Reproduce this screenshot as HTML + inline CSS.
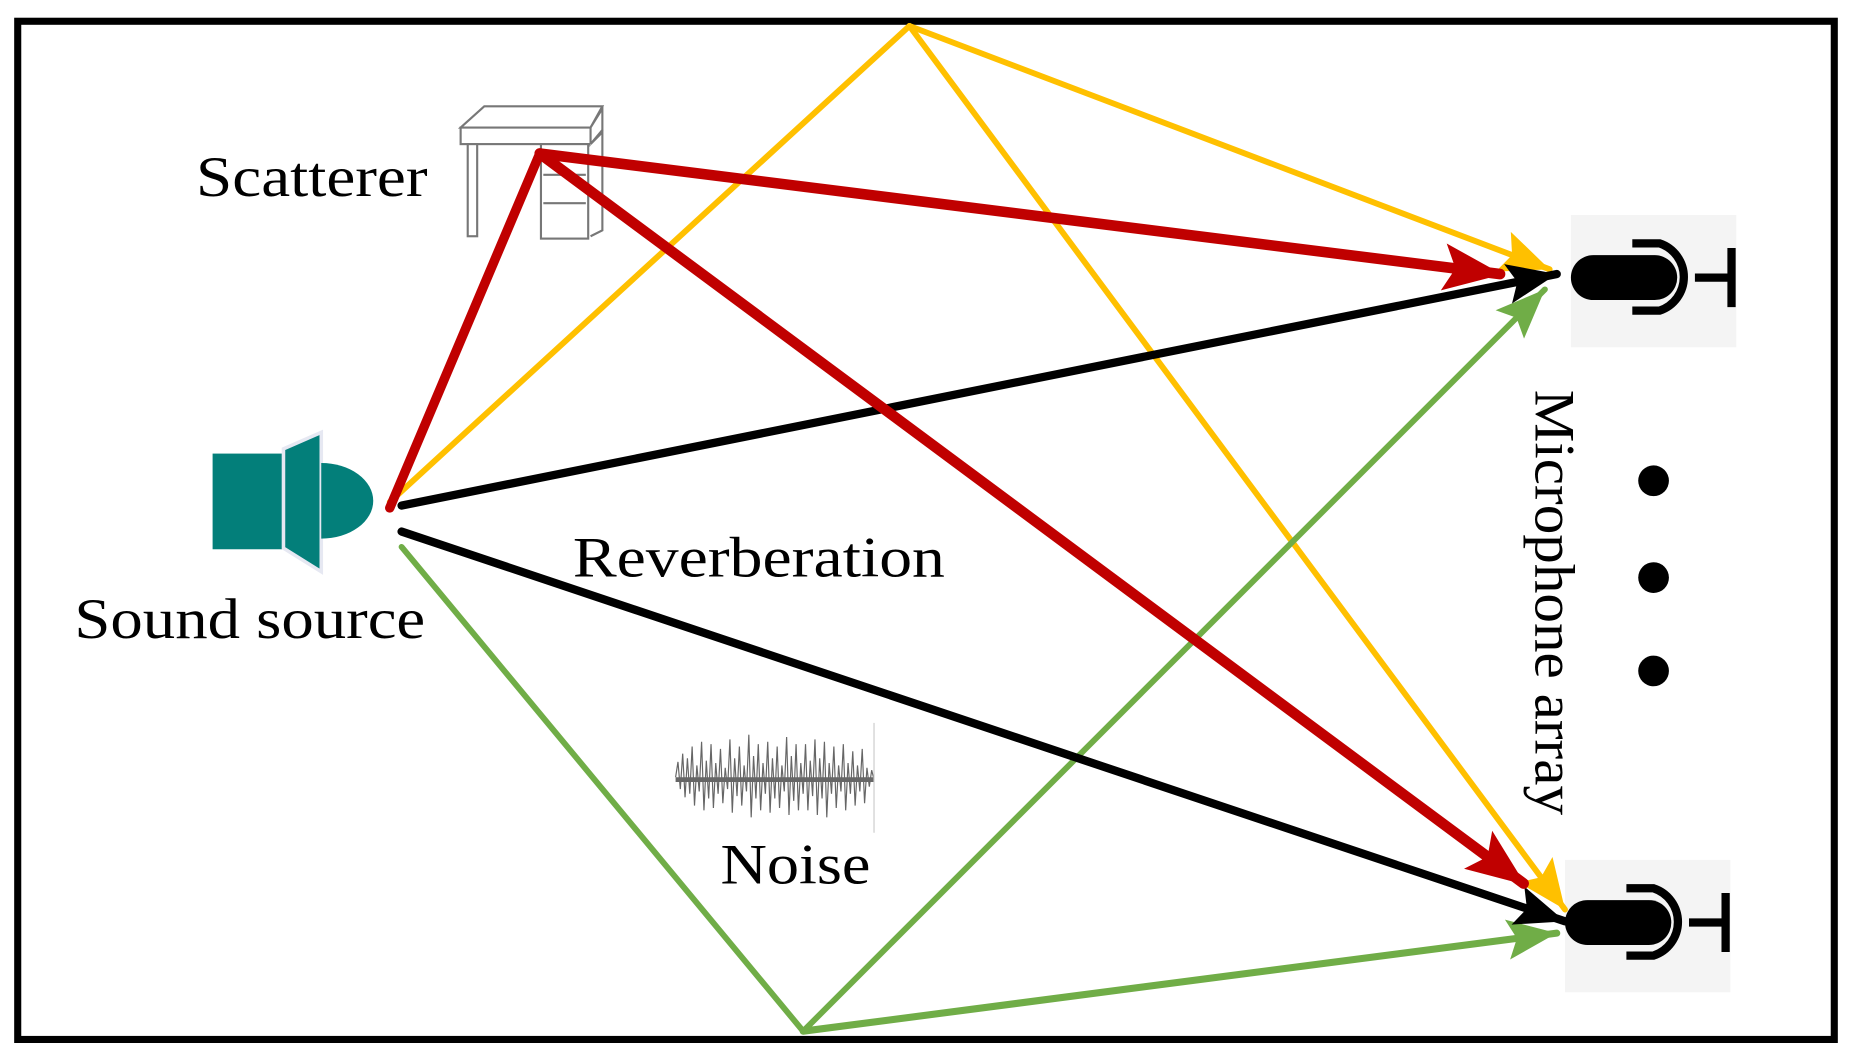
<!DOCTYPE html>
<html><head><style>html,body{margin:0;padding:0;background:#fff}svg{display:block}</style></head><body>
<svg width="1852" height="1056" viewBox="0 0 1568 894" preserveAspectRatio="none" xmlns="http://www.w3.org/2000/svg">
<defs>
<marker id="r" markerUnits="userSpaceOnUse" markerWidth="52" markerHeight="44" refX="48" refY="22" orient="auto"><path d="M0,2 L50,22 L0,42 L10,22 Z" fill="#c00000"/></marker>
<marker id="y" markerUnits="userSpaceOnUse" markerWidth="44" markerHeight="40" refX="42" refY="20" orient="auto"><path d="M0,2 L42,20 L0,38 L8,20 Z" fill="#ffc000"/></marker>
<marker id="k" markerUnits="userSpaceOnUse" markerWidth="44" markerHeight="40" refX="42" refY="20" orient="auto"><path d="M0,3 L42,20 L0,37 L8,20 Z" fill="#000"/></marker>
<marker id="g" markerUnits="userSpaceOnUse" markerWidth="44" markerHeight="40" refX="42" refY="20" orient="auto"><path d="M0,3 L42,20 L0,37 L8,20 Z" fill="#70ad47"/></marker>
</defs>
<rect x="15" y="18" width="1538" height="862" fill="#fff" stroke="#000" stroke-width="6"/>
<g fill="#fff" stroke="#777" stroke-width="1.8">
<path d="M390,108 L410,90 L510,90 L500,108 Z"/>
<rect x="390" y="108" width="110" height="14"/>
<path d="M500,108 L510,92 L510,110 L500,122 Z"/>
<rect x="396" y="122" width="8" height="78"/>
<rect x="458" y="122" width="40" height="80"/>
<line x1="460" y1="148" x2="496" y2="148"/><line x1="460" y1="172" x2="496" y2="172"/>
<path d="M500,122 L510,112 L510,195 L500,200"/>
</g>
<rect x="1330" y="182" width="140" height="112" fill="#f4f4f4"/>
<rect x="1325" y="728" width="140" height="112" fill="#f4f4f4"/>
<g fill="none" stroke="#000" stroke-width="7">
<path d="M1382,206 L1405,206 A30,30 0 0 1 1405,263 L1382,263"/>
<line x1="1435" y1="235" x2="1466" y2="235"/><line x1="1466" y1="210" x2="1466" y2="260"/>
<path d="M1377,752 L1400,752 A30,30 0 0 1 1400,809 L1377,809"/>
<line x1="1430" y1="781" x2="1461" y2="781"/><line x1="1461" y1="756" x2="1461" y2="806"/>
</g>
<rect x="1330" y="216" width="90" height="38" rx="19" fill="#000"/>
<rect x="1325" y="762" width="90" height="38" rx="19" fill="#000"/>
<circle cx="1400" cy="407" r="13"/><circle cx="1400" cy="489" r="13"/><circle cx="1400" cy="568" r="13"/>
<rect x="180" y="384" width="60" height="81" fill="#037f7a"/>
<path d="M240,380 L272,366 L272,484 L240,464 Z" fill="#037f7a" stroke="#e6e8f2" stroke-width="3"/>
<path d="M272,392 A44,32 0 0 1 272,456 Z" fill="#037f7a"/>
<g stroke="#333" stroke-width="1" opacity="0.75" fill="none">
<path d="M572,658 L574,645 L576,668 L578,638 L580,675 L582,642 L584,672 L586,632 L588,682 L590,648 L592,670 L594,628 L596,686 L598,644 L600,676 L602,630 L604,684 L606,646 L608,672 L610,634 L612,680 L614,650 L616,668 L618,626 L620,688 L622,642 L624,674 L626,632 L628,682 L630,648 L632,670 L634,622 L636,692 L638,640 L640,676 L642,630 L644,686 L646,646 L648,672 L650,628 L652,688 L654,642 L656,676 L658,632 L660,684 L662,648 L664,670 L666,624 L668,690 L670,640 L672,678 L674,630 L676,686 L678,646 L680,672 L682,630 L684,686 L686,644 L688,674 L690,626 L692,690 L694,642 L696,676 L698,628 L700,692 L702,646 L704,672 L706,632 L708,684 L710,648 L712,670 L714,630 L716,686 L718,646 L720,672 L722,636 L724,682 L726,648 L728,670 L730,634 L732,680 L734,650 L736,666 L738,652 L740,660"/>
<line x1="572" y1="660" x2="740" y2="660" stroke-width="4"/>
<line x1="740" y1="612" x2="740" y2="705" stroke="#bbb"/>
</g>
<g fill="none" stroke-linecap="round">
<line x1="330" y1="425" x2="770" y2="22" stroke="#ffc000" stroke-width="5"/>
<line x1="770" y1="22" x2="1312" y2="228" stroke="#ffc000" stroke-width="5" marker-end="url(#y)"/>
<line x1="770" y1="22" x2="1325" y2="770" stroke="#ffc000" stroke-width="5" marker-end="url(#y)"/>
<line x1="340" y1="463" x2="680" y2="873" stroke="#70ad47" stroke-width="5"/>
<line x1="680" y1="873" x2="1308" y2="245" stroke="#70ad47" stroke-width="5" marker-end="url(#g)"/>
<line x1="680" y1="873" x2="1318" y2="790" stroke="#70ad47" stroke-width="6" marker-end="url(#g)"/>
<line x1="340" y1="428" x2="1318" y2="232" stroke="#000" stroke-width="7" marker-end="url(#k)"/>
<line x1="340" y1="450" x2="1325" y2="780" stroke="#000" stroke-width="7" marker-end="url(#k)"/>
<line x1="330" y1="430" x2="457" y2="130" stroke="#c00000" stroke-width="8"/>
<line x1="457" y1="130" x2="1270" y2="232" stroke="#c00000" stroke-width="9" marker-end="url(#r)"/>
<line x1="457" y1="130" x2="1290" y2="748" stroke="#c00000" stroke-width="9" marker-end="url(#r)"/>
</g>
<g font-family="Liberation Serif, serif" font-size="48" fill="#000">
<text x="166" y="166" textLength="196" lengthAdjust="spacingAndGlyphs">Scatterer</text>
<text x="63" y="540" textLength="297" lengthAdjust="spacingAndGlyphs">Sound source</text>
<text x="485" y="488" textLength="315" lengthAdjust="spacingAndGlyphs">Reverberation</text>
<text x="610" y="748" textLength="127" lengthAdjust="spacingAndGlyphs">Noise</text>
<text transform="translate(1300,330) rotate(90)" textLength="360" lengthAdjust="spacingAndGlyphs">Microphone array</text>
</g>
</svg>
</body></html>
